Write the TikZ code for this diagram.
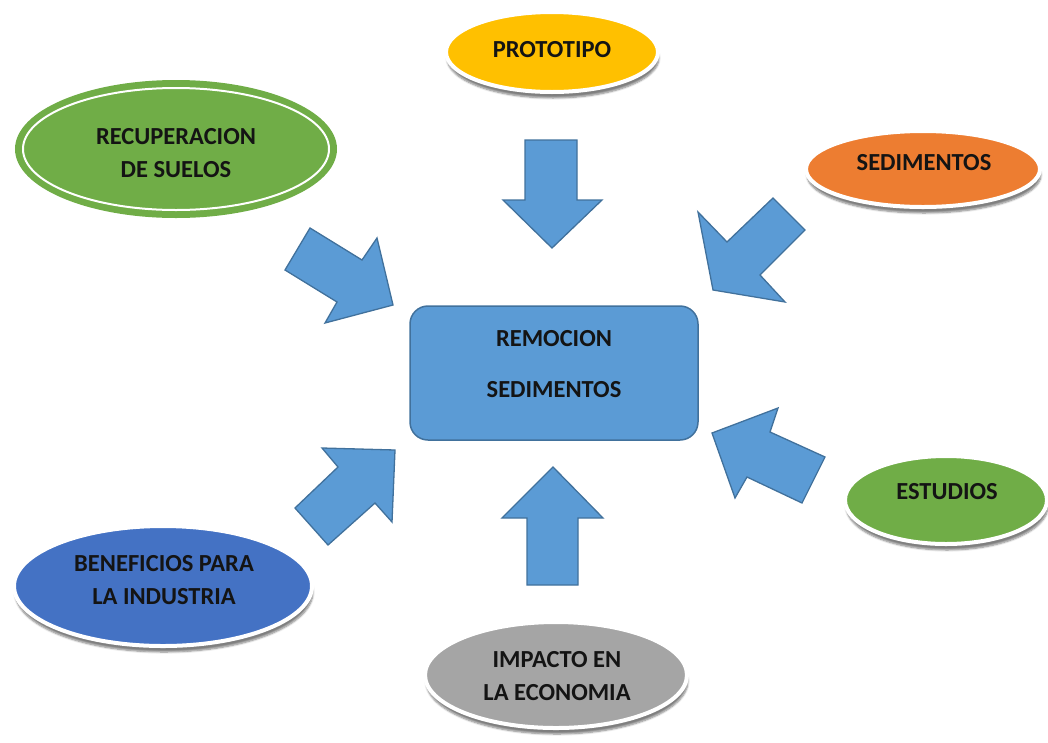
\documentclass[tikz,border=0pt]{standalone}
\usepackage{fontspec}
\setmainfont{Carlito}
\usetikzlibrary{shadows.blur,shapes.geometric}
\definecolor{cblue}{HTML}{5B9BD5}
\definecolor{cblueb}{HTML}{41719C}
\definecolor{cgreen}{HTML}{70AD47}
\definecolor{cyellow}{HTML}{FFC000}
\definecolor{corange}{HTML}{ED7D31}
\definecolor{cgray}{HTML}{A5A5A5}
\definecolor{cdblue}{HTML}{4472C4}
\begin{document}
\begin{tikzpicture}[x=1pt,y=-1pt,
  bub/.style={ellipse, inner sep=0pt, draw=white, line width=4pt,
    blur shadow={shadow xshift=1pt, shadow yshift=-6pt, shadow blur steps=6, shadow opacity=50}},
  lbl/.style={font=\fontsize{24.5}{33}\selectfont\bfseries, text=black!92, align=center, inner sep=0pt},
  barrow/.style={fill=cblue, draw=cblueb, line width=1.3pt, line join=miter}]
\useasboundingbox (0,0) rectangle (1048,742);

% ellipses
\node[ellipse, inner sep=0pt, fill=cgreen, draw=cgreen, line width=2pt,
      minimum width=320pt, minimum height=136pt] (rec) at (176,149) {};
\draw[white, line width=2pt] (rec.center) ellipse [x radius=153pt, y radius=61pt];
\node[lbl] (rect) at (176,153) {RECUPERACION\\DE SUELOS};

\node[bub, fill=cyellow, minimum width=212pt, minimum height=80pt] (pro) at (552,52) {};
\node[lbl] (prot) at (552,50) {PROTOTIPO};

\node[bub, fill=corange, minimum width=234pt, minimum height=76pt] (sed) at (923,169) {};
\node[lbl] (sedt) at (924,163) {SEDIMENTOS};

\node[bub, fill=cgreen, minimum width=202pt, minimum height=88pt] (est) at (946,500) {};
\node[lbl] (estt) at (947,492) {ESTUDIOS};

\node[bub, fill=cgray, minimum width=262pt, minimum height=106pt] (imp) at (556,675) {};
\node[lbl] (impt) at (557,676) {IMPACTO EN\\LA ECONOMIA};

\node[bub, fill=cdblue, minimum width=298pt, minimum height=120pt] (ben) at (163,586) {};
\node[lbl] (bent) at (164,580) {BENEFICIOS PARA\\LA INDUSTRIA};

% central box
\node[fill=cblue, draw=cblueb, line width=1.5pt, rounded corners=18pt,
      minimum width=288pt, minimum height=134pt] (box) at (554,373) {};
\node[lbl, font=\fontsize{24.5}{51}\selectfont\bfseries] (boxt) at (554,364) {REMOCION\\SEDIMENTOS};

% block arrows
\draw[barrow] (525,140) -- (577,140) -- (577,200) -- (602,200) -- (552,248) -- (503,200) -- (525,200) -- cycle;
\draw[barrow] (553,467) -- (603,518) -- (578,518) -- (578,585) -- (527,585) -- (527,518) -- (502,518) -- cycle;
\draw[barrow] (310,228) -- (362,260) -- (377,238) -- (393,305) -- (325,323) -- (337,302) -- (285,270) -- cycle;
\draw[barrow] (773,198) -- (805,230) -- (760,275) -- (785,302) -- (713,290) -- (698,212) -- (727,242) -- cycle;
\draw[barrow] (712,433) -- (778,408) -- (770,432) -- (825,457) -- (802,503) -- (747,477) -- (735,498) -- cycle;
\draw[barrow] (395,450) -- (392,522) -- (375,503) -- (328,545) -- (295,508) -- (338,467) -- (322,448) -- cycle;
\end{tikzpicture}
\end{document}
